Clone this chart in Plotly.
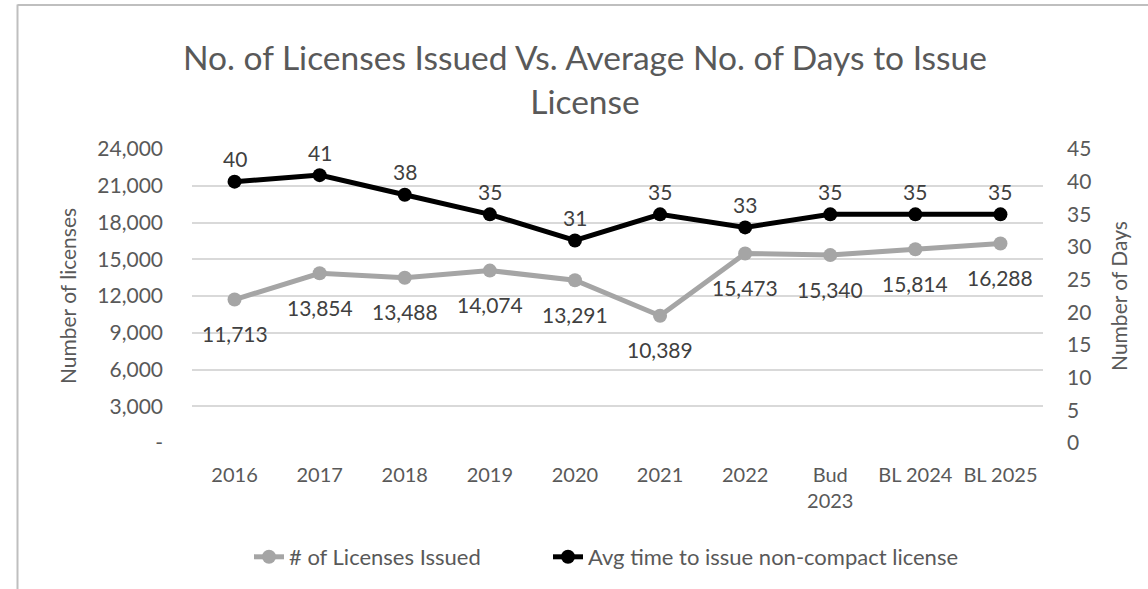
import plotly.graph_objects as go

categories = ["2016", "2017", "2018", "2019", "2020", "2021", "2022", "Bud<br>2023", "BL 2024", "BL 2025"]
licenses = [11713, 13854, 13488, 14074, 13291, 10389, 15473, 15340, 15814, 16288]
days = [40, 41, 38, 35, 31, 35, 33, 35, 35, 35]
left_ticks = [0, 3000, 6000, 9000, 12000, 15000, 18000, 21000, 24000]
left_tick_text = ["-", "3,000", "6,000", "9,000", "12,000", "15,000", "18,000", "21,000", "24,000"]
right_ticks = [0, 5, 10, 15, 20, 25, 30, 35, 40, 45]

W, H = 1148, 589
L, R, T, B = 192, 1043, 149, 444
FONT = "Lato"
TICK_C = "#595959"
LABEL_C = "#404040"

fig = go.Figure()
fig.add_trace(go.Scatter(
    x=categories, y=licenses, name="# of Licenses Issued", mode="lines+markers",
    line=dict(color="#A5A5A5", width=5), marker=dict(color="#A5A5A5", size=14),
    yaxis="y", legend="legend", showlegend=True))
fig.add_trace(go.Scatter(
    x=categories, y=days, name="Avg time to issue non-compact license", mode="lines+markers",
    line=dict(color="#000000", width=5), marker=dict(color="#000000", size=14),
    yaxis="y2", legend="legend2", showlegend=True))

# annotations placed at the category index (numeric-looking category names
# would otherwise be read as raw coordinates)
annotations = []
for i, v in enumerate(licenses):
    annotations.append(dict(x=i, y=v, xref="x", yref="y", text=f"{v:,}", showarrow=False,
                            yshift=-34, font=dict(family=FONT, size=21, color=LABEL_C)))
for i, v in enumerate(days):
    annotations.append(dict(x=i, y=v, xref="x", yref="y2", text=str(v), showarrow=False,
                            yshift=23, font=dict(family=FONT, size=21, color=LABEL_C)))

def px_x(p):
    return (p - L) / (R - L)

def px_y(p):
    return (B - p) / (B - T)

shapes = [
    dict(type="line", xref="paper", yref="paper", x0=px_x(17.5), x1=px_x(1150), y0=px_y(4.5), y1=px_y(4.5),
         line=dict(color="#BFBFBF", width=2)),
    dict(type="line", xref="paper", yref="paper", x0=px_x(17.5), x1=px_x(17.5), y0=px_y(4), y1=px_y(592),
         line=dict(color="#BFBFBF", width=2)),
]

legend_common = dict(orientation="h", xanchor="left", yanchor="middle", y=px_y(557),
                     font=dict(family=FONT, size=22, color=TICK_C), bgcolor="rgba(0,0,0,0)",
                     visible=True)

fig.update_layout(
    width=W, height=H,
    margin=dict(l=L, r=W - R, t=T, b=H - B),
    paper_bgcolor="white", plot_bgcolor="white",
    showlegend=True,
    font=dict(family=FONT, color=TICK_C, size=20),
    title=dict(text="No. of Licenses Issued Vs. Average No. of Days to Issue<br>License",
               x=px_x(585), xref="paper", xanchor="center",
               y=1 - 70 / H, yref="container", yanchor="top",
               font=dict(family=FONT, size=33.5, color=TICK_C)),
    xaxis=dict(type="category", categoryorder="array", categoryarray=categories,
               range=[-0.5, len(categories) - 0.5], autorange=False,
               showgrid=False, showline=False, zeroline=False,
               tickfont=dict(family=FONT, size=20, color=TICK_C), ticks="", ticklabelstandoff=18),
    yaxis=dict(range=[0, 24000], autorange=False, tickvals=left_ticks, ticktext=left_tick_text,
               showgrid=True, gridcolor="#D9D9D9", gridwidth=1.5, zeroline=False, showline=False,
               tickfont=dict(family=FONT, size=21, color=TICK_C), ticklabelstandoff=28,
               title=dict(text="Number of licenses", font=dict(family=FONT, size=21, color=TICK_C), standoff=14)),
    yaxis2=dict(range=[0, 45], autorange=False, tickvals=right_ticks, overlaying="y", side="right",
                showgrid=False, zeroline=False, showline=False,
                tickfont=dict(family=FONT, size=21, color=TICK_C), ticklabelstandoff=23,
                title=dict(text="Number of Days", font=dict(family=FONT, size=21, color=TICK_C), standoff=21)),
    legend=dict(x=px_x(249), **legend_common),
    legend2=dict(x=px_x(548), **legend_common),
    annotations=annotations,
    shapes=shapes,
)

fig.write_html("out.html", config={"displayModeBar": False},
               post_script="document.body.style.margin='0';")
